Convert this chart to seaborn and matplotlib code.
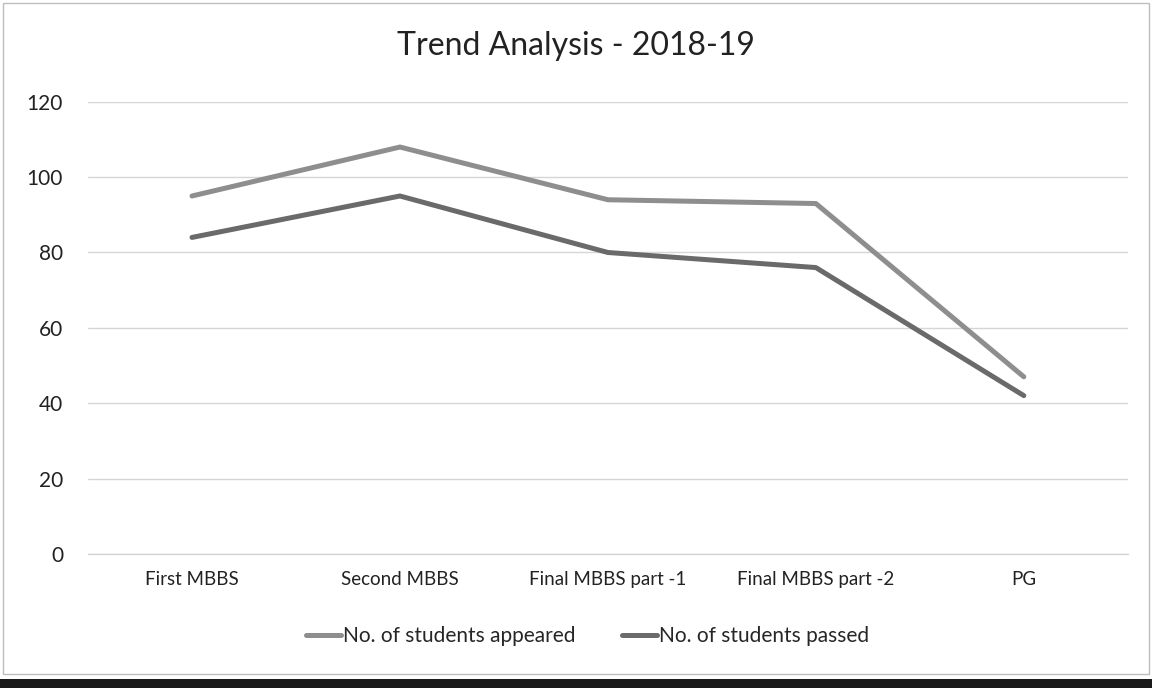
import matplotlib
matplotlib.use("Agg")
import matplotlib.pyplot as plt
import seaborn as sns
import pandas as pd
from matplotlib.patches import Rectangle

# chart data
courses = ["First MBBS", "Second MBBS", "Final MBBS part -1", "Final MBBS part -2", "PG"]
appeared = [95, 108, 94, 93, 47]
passed = [84, 95, 80, 76, 42]
series_names = ["No. of students appeared", "No. of students passed"]

df = pd.concat([
    pd.DataFrame({"course": courses, "value": appeared, "series": series_names[0]}),
    pd.DataFrame({"course": courses, "value": passed, "series": series_names[1]}),
])
df["pos"] = df["course"].map({c: i for i, c in enumerate(courses)})

sns.set_style("white")
plt.rcParams['font.family'] = ['Lato', 'DejaVu Sans']

fig = plt.figure(figsize=(11.52, 6.88), dpi=100)
ax = fig.add_axes([0.0764, 0.195, 0.9026, 0.657])

palette = {series_names[0]: "#8e8e8e", series_names[1]: "#6a6a6a"}
sns.lineplot(data=df, x="pos", y="value", hue="series", palette=palette,
             sort=False, linewidth=3.6, ax=ax, legend=False)

ax.set_xlim(-0.5, len(courses) - 0.5)
ax.set_ylim(0, 120)
ax.set_yticks(range(0, 121, 20))
ax.set_xticks(range(len(courses)))
ax.set_xticklabels(courses)
ax.tick_params(axis="x", length=0, labelsize=13.5, colors="#222222", pad=12)
ax.tick_params(axis="y", length=0, labelsize=15, colors="#222222", pad=18)
ax.set_xlabel("")
ax.set_ylabel("")
ax.yaxis.grid(True, color="#d6d6d6", linewidth=1)
for s in ["top", "right", "left"]:
    ax.spines[s].set_visible(False)
ax.spines["bottom"].set_color("#cfcfcf")

fig.text(0.5, 0.933, "Trend Analysis - 2018-19", ha="center", va="center",
         fontsize=23, color="#222222")

# legend
handles = [plt.Line2D([], [], color=palette[n], linewidth=3.6) for n in series_names]
fig.legend(handles, series_names, loc="center", bbox_to_anchor=(0.51, 0.075), ncol=2,
           frameon=False, fontsize=15, handlelength=1.7, handletextpad=0.1,
           columnspacing=2.2)

# scan frame and dark strip at bottom
fig.add_artist(Rectangle((0.003, 0.02), 0.994, 0.975, transform=fig.transFigure,
                         fill=False, edgecolor="#bdbdbd", linewidth=1))
fig.add_artist(Rectangle((0, 0), 1, 0.013, transform=fig.transFigure,
                         facecolor="#1a1a1a", edgecolor="none"))

fig.savefig("out.png", dpi=100)
